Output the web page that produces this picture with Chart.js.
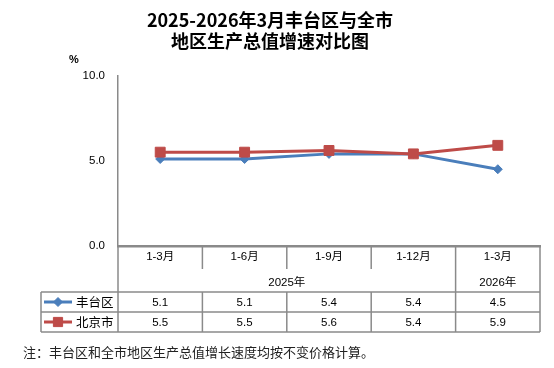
<!DOCTYPE html>
<html>
<head>
<meta charset="utf-8">
<script src="https://cdn.jsdelivr.net/npm/chart.js@4.4.1/dist/chart.umd.min.js"></script>
<style>
  html, body { margin: 0; padding: 0; background: #fff; }
  #wrap { width: 554px; height: 368px; position: relative; }
</style>
</head>
<body>
<div id="wrap"><canvas id="c" width="554" height="368"></canvas></div>
<script>
// ---- data ----
const titleLines = ['2025-2026年3月丰台区与全市', '地区生产总值增速对比图'];
const categories = ['1-3月', '1-6月', '1-9月', '1-12月', '1-3月'];
const yearGroups = ['2025年', '2025年', '2025年', '2025年', '2026年'];
const seriesNames = ['丰台区', '北京市'];
const fengtai = [5.1, 5.1, 5.4, 5.4, 4.5];
const beijing = [5.5, 5.5, 5.6, 5.4, 5.9];
const yTicks = [0, 5, 10];
const unitLabel = '%';
const noteText = '注：丰台区和全市地区生产总值增长速度均按不变价格计算。';

const BLUE = '#4A7EBB';
const RED = '#BE4B48';
const GRID = '#8A8A8A';
const FONT = "'Liberation Sans', 'Noto Sans CJK SC', sans-serif";
const CJK = "'Noto Sans CJK SC', 'Liberation Sans', sans-serif";

const tablePlugin = {
  id: 'dataTable',
  afterDraw(chart) {
    const ctx = chart.ctx;
    const xs = chart.scales.x;
    const a = chart.chartArea;
    const top = a.bottom;
    const catBottom = top + 23;
    const yearBottom = top + 46;
    const row1Bottom = top + 66;
    const row2Bottom = top + 86;
    const tableLeft = 41;
    const n = categories.length;
    const centers = categories.map((c, i) => xs.getPixelForValue(i));
    const bounds = [];
    for (let i = 0; i < n - 1; i++) bounds.push((centers[i] + centers[i + 1]) / 2);

    ctx.save();
    ctx.strokeStyle = GRID;
    ctx.lineWidth = 1.5;
    const line = (x1, y1, x2, y2) => { ctx.beginPath(); ctx.moveTo(x1, y1); ctx.lineTo(x2, y2); ctx.stroke(); };

    // verticals
    line(a.left, top, a.left, row2Bottom);
    line(a.right, top, a.right, row2Bottom);
    line(tableLeft, yearBottom, tableLeft, row2Bottom);
    bounds.forEach((b, i) => {
      const groupBreak = yearGroups[i] !== yearGroups[i + 1];
      if (groupBreak) {
        line(b, top, b, row2Bottom);
      } else {
        line(b, top, b, catBottom);
        line(b, yearBottom, b, row2Bottom);
      }
    });
    // horizontals
    [yearBottom, row1Bottom, row2Bottom].forEach(y => line(tableLeft, y, a.right, y));

    // texts
    ctx.fillStyle = '#000';
    ctx.textAlign = 'center';
    ctx.textBaseline = 'middle';
    ctx.font = '11.5px ' + FONT;
    categories.forEach((c, i) => ctx.fillText(c, centers[i], top + 11));
    // year groups
    let start = 0;
    for (let i = 1; i <= n; i++) {
      if (i === n || yearGroups[i] !== yearGroups[start]) {
        const l = start === 0 ? a.left : bounds[start - 1];
        const r = i === n ? a.right : bounds[i - 1];
        ctx.fillText(yearGroups[start], (l + r) / 2, top + 37);
        start = i;
      }
    }
    const rows = [
      { data: fengtai, color: BLUE, style: 'rectRot', r: 4.5, y: (yearBottom + row1Bottom) / 2 },
      { data: beijing, color: RED, style: 'rect', r: 6.5, y: (row1Bottom + row2Bottom) / 2 }
    ];
    rows.forEach((row, k) => {
      ctx.fillStyle = '#000';
      ctx.font = '11.5px ' + FONT;
      ctx.textAlign = 'center';
      row.data.forEach((v, i) => ctx.fillText(v.toFixed(1), centers[i], row.y + 1));
      // legend key
      ctx.strokeStyle = row.color;
      ctx.lineWidth = 3;
      line(44, row.y, 72, row.y);
      ctx.fillStyle = row.color;
      ctx.strokeStyle = row.color;
      ctx.lineWidth = 1;
      Chart.helpers.drawPoint(ctx, { pointStyle: row.style, radius: row.r, borderWidth: 1 }, 58, row.y);
      ctx.fillStyle = '#000';
      ctx.textAlign = 'left';
      ctx.font = '12.5px ' + CJK;
      ctx.fillText(seriesNames[k], 76, row.y);
      ctx.strokeStyle = GRID;
      ctx.lineWidth = 1.5;
    });

    // unit label
    ctx.font = 'bold 11px ' + FONT;
    ctx.textAlign = 'left';
    ctx.fillStyle = '#000';
    ctx.fillText(unitLabel, 69, 60);

    // note
    ctx.font = '13px ' + CJK;
    ctx.fillStyle = '#222';
    ctx.fillText(noteText, 23, 352);
    ctx.restore();
  }
};

new Chart(document.getElementById('c'), {
  type: 'line',
  data: {
    labels: categories,
    datasets: [
      {
        label: seriesNames[0], data: fengtai, borderColor: BLUE, backgroundColor: BLUE,
        borderWidth: 3, pointStyle: 'rectRot', pointRadius: 4.5, pointBorderWidth: 1,
        pointBackgroundColor: BLUE, pointBorderColor: BLUE, tension: 0, order: 2
      },
      {
        label: seriesNames[1], data: beijing, borderColor: RED, backgroundColor: RED,
        borderWidth: 3, pointStyle: 'rect', pointRadius: 7, pointBorderWidth: 1,
        pointBackgroundColor: RED, pointBorderColor: RED, tension: 0, order: 1
      }
    ]
  },
  options: {
    responsive: false,
    animation: false,
    events: [],
    layout: { padding: { left: 0, right: 14, top: 0, bottom: 122 } },
    plugins: {
      legend: { display: false },
      tooltip: { enabled: false },
      title: {
        display: true,
        text: titleLines,
        color: '#000',
        font: { family: CJK, size: 18, weight: 'bold', lineHeight: 1.15 },
        padding: { top: 10, bottom: 24 }
      }
    },
    scales: {
      x: {
        type: 'category',
        offset: true,
        grid: { display: false, drawTicks: false },
        ticks: { display: false },
        border: { display: true, color: GRID, width: 2.5 },
        afterFit(scale) { scale.height = 0; }
      },
      y: {
        min: 0, max: 10,
        grid: { display: false, drawTicks: false },
        border: { display: true, color: GRID, width: 1.5 },
        afterBuildTicks(scale) { scale.ticks = yTicks.map(v => ({ value: v })); },
        ticks: {
          color: '#000',
          padding: 13,
          font: { family: FONT, size: 11.5 },
          callback: v => Number(v).toFixed(1)
        },
        afterFit(scale) { scale.width = 118; }
      }
    }
  },
  plugins: [tablePlugin]
});
</script>
</body>
</html>
